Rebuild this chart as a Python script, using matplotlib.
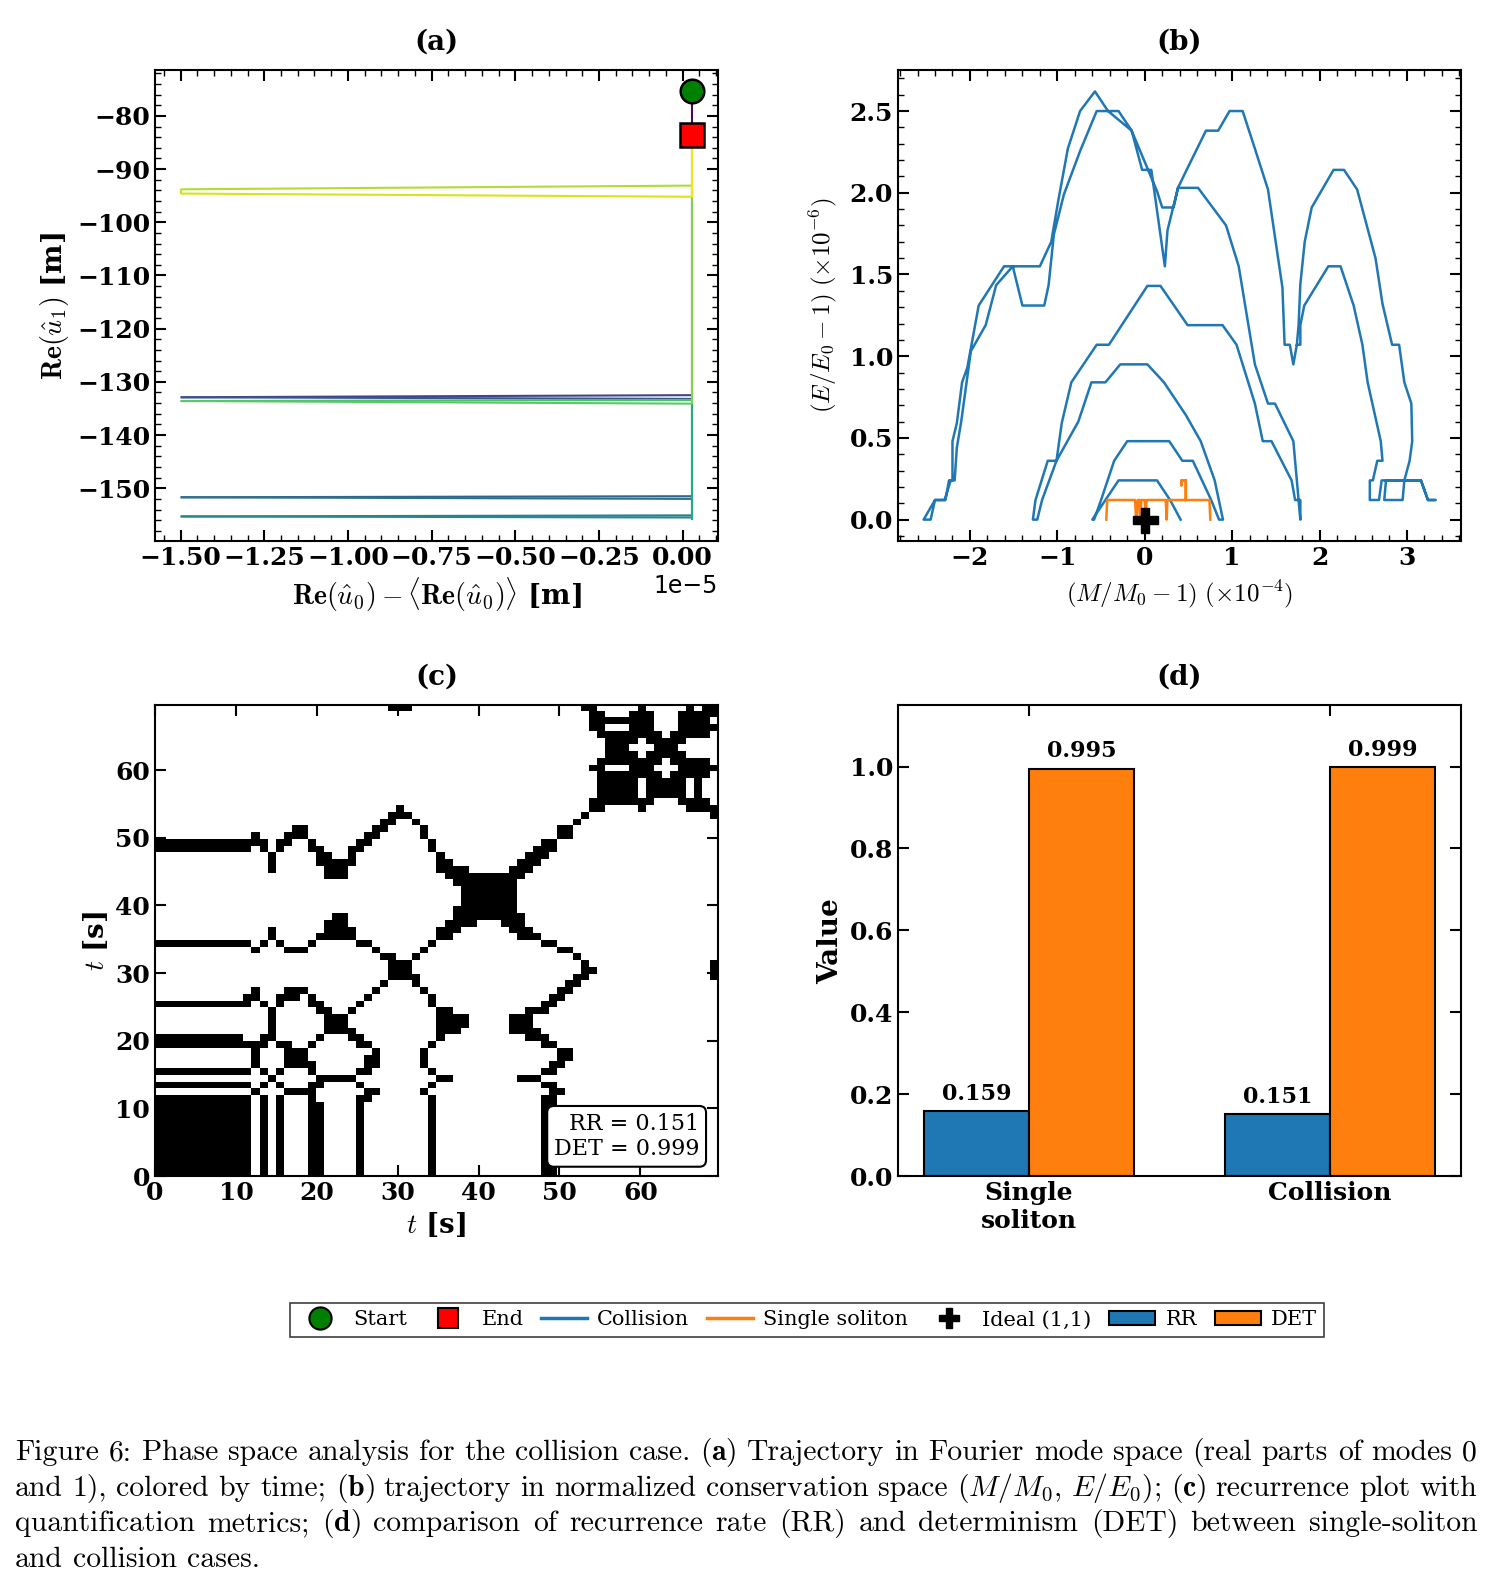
import numpy as np
import matplotlib
matplotlib.use("Agg")
import matplotlib.pyplot as plt
from matplotlib.collections import LineCollection
from matplotlib.lines import Line2D
from matplotlib.patches import Patch
from matplotlib.ticker import AutoMinorLocator, MultipleLocator

plt.rcParams['font.family'] = 'DejaVu Serif'
plt.rcParams['font.weight'] = 'bold'
plt.rcParams['axes.labelweight'] = 'bold'
plt.rcParams['mathtext.fontset'] = 'cm'
plt.rcParams['axes.linewidth'] = 1.5

BLUE = '#1f77b4'
ORANGE = '#ff7f0e'

# (a) trajectory in Fourier mode space  (x in units of 1e-5 m)
re_u0_e5 = [0.029, 0.029, 0.029, -1.5, 0.029, 0.029, -1.5, 0.029, 0.029, -1.5,
            0.029, 0.029, 0.029, -1.5, 0.029, 0.029, -1.5, -1.5, 0.029, 0.029]
re_u1 = [-75.4, -95.0, -132.5, -132.9, -133.2, -151.5, -151.7, -152.0, -155.1, -155.3,
         -155.5, -155.9, -133.4, -133.6, -134.1, -93.1, -93.8, -94.6, -95.2, -83.6]
t_norm = [0.0, 0.05, 0.15, 0.25, 0.28, 0.30, 0.34, 0.38, 0.42, 0.45,
          0.48, 0.52, 0.70, 0.73, 0.76, 0.86, 0.90, 0.93, 0.96, 1.0]

# (b) collision trajectory, (M/M0-1) x1e-4 and (E/E0-1) x1e-6
coll_dm = [0.41, 0.29, 0.14, -0.30, -0.45, -0.60,
           -0.58, -0.50, -0.35, -0.20, 0.28, 0.43, 0.55, 0.76, 0.85,
           0.895, 0.80, 0.64, 0.47, 0.22, 0.03, -0.28, -0.45, -0.61, -0.76, -1.01, -1.175, -1.23,
           -1.28, -1.25, -1.11, -1.01, -0.95, -0.84, -0.55, -0.41, 0.03, 0.18, 0.49, 0.89, 1.05,
           1.26, 1.35, 1.45, 1.68, 1.72, 1.78, 1.78,
           1.70, 1.49, 1.41, 1.26, 1.075, 0.93, 0.61, 0.47, 0.38,
           0.33, 0.20, 0.14, -0.15, -0.30, -0.55, -0.74, -0.925, -1.04, -1.10, -1.15, -1.40,
           -1.51, -1.70, -1.82, -1.99, -2.10, -2.15, -2.175, -2.22, -2.29, -2.40, -2.45,
           -2.53, -2.40, -2.28, -2.24, -2.20, -2.20, -2.15, -2.09, -2.03, -1.90, -1.61, -1.20,
           -1.07, -0.99, -0.88, -0.74, -0.57, -0.42, -0.15, -0.03, 0.075, 0.23, 0.26, 0.38,
           0.47, 0.70, 0.84, 0.97, 1.12, 1.26, 1.41, 1.575, 1.60, 1.66, 1.70, 1.74, 1.78, 1.78, 1.825,
           2.10, 2.24, 2.39, 2.49, 2.55, 2.70, 2.72, 2.66, 2.61, 2.575, 2.575, 2.68, 2.71, 3.16,
           3.24, 3.325, 3.24, 3.16, 2.76, 2.74, 2.95,
           2.97, 3.03, 3.06, 3.05, 2.97, 2.91, 2.83, 2.72, 2.64, 2.43, 2.28, 2.16, 1.91, 1.83,
           1.78, 1.76, 1.74]
coll_de = [0.0, 0.12, 0.24, 0.24, 0.12, 0.0,
           0.0, 0.12, 0.36, 0.48, 0.48, 0.36, 0.36, 0.12, 0.0,
           0.0, 0.24, 0.48, 0.64, 0.84, 0.95, 0.95, 0.84, 0.84, 0.60, 0.36, 0.12, 0.0,
           0.0, 0.12, 0.36, 0.36, 0.59, 0.84, 1.07, 1.07, 1.43, 1.43, 1.19, 1.19, 1.07,
           0.71, 0.48, 0.48, 0.24, 0.12, 0.12, 0.0,
           0.48, 0.71, 0.71, 0.95, 1.55, 1.80, 2.03, 2.03, 2.03,
           1.91, 1.91, 2.01, 2.38, 2.50, 2.50, 2.255, 1.99, 1.745, 1.435, 1.31, 1.31,
           1.55, 1.435, 1.19, 1.03, 0.60, 0.44, 0.24, 0.24, 0.12, 0.12, 0.0,
           0.0, 0.12, 0.12, 0.24, 0.24, 0.48, 0.59, 0.84, 0.93, 1.31, 1.55, 1.55,
           1.70, 1.95, 2.27, 2.50, 2.62, 2.50, 2.38, 2.14, 2.14, 1.55, 1.77, 2.03,
           2.13, 2.38, 2.38, 2.50, 2.50, 2.27, 2.02, 1.42, 1.07, 1.07, 0.95, 1.07, 1.07, 1.19, 1.31,
           1.55, 1.55, 1.31, 1.07, 0.84, 0.48, 0.36, 0.36, 0.24, 0.24, 0.12, 0.12, 0.24, 0.24,
           0.12, 0.12, 0.12, 0.24, 0.24, 0.12, 0.12,
           0.24, 0.36, 0.48, 0.71, 0.84, 1.07, 1.07, 1.32, 1.60, 2.02, 2.14, 2.14, 1.91, 1.70,
           1.44, 1.19, 1.07]

# (b) single soliton trajectory
ss_dm = [-0.44, -0.43, -0.11, -0.10, -0.09, -0.08, -0.06, -0.05, -0.04, 0.0, 0.01, 0.02,
         0.24, 0.25, 0.26, 0.47, 0.47, 0.42, 0.42, 0.42, 0.47, 0.47, 0.74, 0.75]
ss_de = [0.0, 0.12, 0.12, 0.0, 0.0, 0.12, 0.12, 0.0, 0.12, 0.12, 0.0, 0.12,
         0.12, 0.0, 0.12, 0.12, 0.24, 0.24, 0.21, 0.24, 0.24, 0.12, 0.12, 0.0]

# (c) state signal used for the recurrence plot (one sample per cell)
rp_signal = [0.0, 0.0, 0.0, 0.0, 0.0, 0.0, 0.0, 0.0, 0.0, 0.0,
             0.0, 0.4, 1.5, 0.0, -1.5, 0.4, 1.5, 2.1, 2.2, 0.5,
             -0.8, -2.0, -2.4, -2.4, -1.3, 0.1, 1.2, 2.2, 3.5, 4.8,
             5.5, 5.0, 3.8, 2.2, 0.3, -1.4, -2.3, -2.8, -3.4, -3.8,
             -4.0, -4.0, -3.9, -3.6, -3.0, -2.4, -1.7, -1.2, -0.3, 0.5,
             1.8, 2.6, 3.9, 5.2, 6.3, 7.2, 7.7, 8.0, 7.9, 7.4,
             6.6, 7.6, 8.3, 8.7, 8.3, 7.6, 6.6, 7.1, 6.6, 5.8]
rp_eps = 1.0
t_end = 69.6

# (d) recurrence metrics
cases = ['Single\nsoliton', 'Collision']
rr_vals = [0.159, 0.151]
det_vals = [0.995, 0.999]

fig = plt.figure(figsize=(14.92, 15.88), dpi=100)
ax_a = fig.add_axes([0.1039, 0.6593, 0.3773, 0.2966])
ax_b = fig.add_axes([0.6019, 0.6593, 0.3773, 0.2966])
ax_c = fig.add_axes([0.1039, 0.2594, 0.3773, 0.2966])
ax_d = fig.add_axes([0.6019, 0.2594, 0.3773, 0.2966])


def style(ax, minor=True):
    ax.tick_params(which='both', direction='in', top=True, right=True, labelsize=18)
    ax.tick_params(which='major', length=8, width=1.5)
    ax.tick_params(which='minor', length=4, width=1.0)
    if minor:
        ax.xaxis.set_minor_locator(AutoMinorLocator(5))
        ax.yaxis.set_minor_locator(AutoMinorLocator(5))


# ---- (a)
x = np.array(re_u0_e5) * 1e-5
y = np.array(re_u1)
t = np.array(t_norm)
pts = np.column_stack([x, y])
segs = np.stack([pts[:-1], pts[1:]], axis=1)
lc = LineCollection(segs, cmap='viridis', norm=plt.Normalize(0, 1), linewidths=1.5)
lc.set_array((t[:-1] + t[1:]) / 2)
ax_a.add_collection(lc)
ax_a.autoscale_view()
ax_a.plot(x[0], y[0], 'o', color='green', mec='black', ms=17, mew=1.8, zorder=5)
ax_a.plot(x[-1], y[-1], 's', color='red', mec='black', ms=17, mew=1.8, zorder=5)
style(ax_a)
ax_a.set_title('(a)', fontsize=20, fontweight='bold', pad=15)
ax_a.set_xlabel(r'$\mathbf{Re}(\hat{u}_0) - \langle\mathbf{Re}(\hat{u}_0)\rangle$ [m]', fontsize=20)
ax_a.set_ylabel(r'$\mathbf{Re}(\hat{u}_1)$ [m]', fontsize=20)
off = ax_a.xaxis.get_offset_text()
off.set_fontfamily('DejaVu Sans')
off.set_fontweight('normal')
off.set_fontsize(17)

# ---- (b)
ax_b.plot(coll_dm, coll_de, color=BLUE, lw=1.8, label='Collision')
ax_b.plot(ss_dm, ss_de, color=ORANGE, lw=1.8, label='Single soliton', zorder=3)
ax_b.plot([0], [0], 'P', color='black', ms=18, zorder=5)
style(ax_b)
ax_b.xaxis.set_major_locator(MultipleLocator(1))
ax_b.yaxis.set_major_locator(MultipleLocator(0.5))
ax_b.xaxis.set_minor_locator(AutoMinorLocator(5))
ax_b.yaxis.set_minor_locator(AutoMinorLocator(5))
ax_b.set_title('(b)', fontsize=20, fontweight='bold', pad=15)
ax_b.set_xlabel(r'$(M/M_0-1)\ (\times10^{-4})$', fontsize=18, labelpad=6)
ax_b.set_ylabel(r'$(E/E_0-1)\ (\times10^{-6})$', fontsize=18, labelpad=8)

# ---- (c)
s = np.array(rp_signal)
rp = np.abs(s[:, None] - s[None, :]) <= rp_eps
ax_c.imshow(rp, cmap='binary', origin='lower', extent=[0, t_end, 0, t_end],
            interpolation='nearest', aspect='auto')
style(ax_c, minor=False)
ax_c.set_xticks(np.arange(0, 61, 10))
ax_c.set_yticks(np.arange(0, 61, 10))
ax_c.set_xlim(0, t_end)
ax_c.set_ylim(0, t_end)
ax_c.set_title('(c)', fontsize=20, fontweight='bold', pad=15)
ax_c.set_xlabel(r'$t$ [s]', fontsize=20)
ax_c.set_ylabel(r'$t$ [s]', fontsize=20)
ax_c.text(0.967, 0.034, f'RR = {rr_vals[1]:.3f}\nDET = {det_vals[1]:.3f}',
          transform=ax_c.transAxes, ha='right', va='bottom', fontsize=16,
          fontweight='normal', multialignment='right',
          bbox=dict(boxstyle='round,pad=0.3', fc='white', ec='black', lw=1.5))

# ---- (d)
pos = np.arange(len(cases))
w = 0.35
b1 = ax_d.bar(pos - w / 2, rr_vals, w, color=BLUE, edgecolor='black', lw=1.5)
b2 = ax_d.bar(pos + w / 2, det_vals, w, color=ORANGE, edgecolor='black', lw=1.5)
for bars, vals in ((b1, rr_vals), (b2, det_vals)):
    for r, v in zip(bars, vals):
        ax_d.text(r.get_x() + r.get_width() / 2, v + 0.015, f'{v:.3f}',
                  ha='center', va='bottom', fontsize=16, fontweight='bold')
ax_d.set_ylim(0, 1.15)
style(ax_d, minor=False)
ax_d.set_xticks(pos)
ax_d.set_xticklabels(cases)
ax_d.set_title('(d)', fontsize=20, fontweight='bold', pad=15)
ax_d.set_ylabel('Value', fontsize=20)

# ---- legend
handles = [
    Line2D([], [], marker='o', ls='None', mfc='green', mec='black', ms=16, mew=1.5),
    Line2D([], [], marker='s', ls='None', mfc='red', mec='black', ms=15, mew=1.5),
    Line2D([], [], color=BLUE, lw=2.5),
    Line2D([], [], color=ORANGE, lw=2.5),
    Line2D([], [], marker='P', ls='None', color='black', ms=15),
    Patch(facecolor=BLUE, edgecolor='black', lw=1.5),
    Patch(facecolor=ORANGE, edgecolor='black', lw=1.5),
]
labels = ['Start', 'End', 'Collision', 'Single soliton', 'Ideal (1,1)', 'RR', 'DET']
leg = fig.legend(handles, labels, loc='upper center', bbox_to_anchor=(0.541, 0.186), ncol=7,
                 fancybox=False, edgecolor='0.25', framealpha=1, handlelength=2.2,
                 handletextpad=0.5, columnspacing=0.85, borderpad=0.35,
                 prop={'family': 'DejaVu Serif', 'weight': 'normal', 'size': 15})
leg.get_frame().set_linewidth(1.2)

# ---- caption (justified)
cap_lines = [
    r"Figure 6: Phase space analysis for the collision case. ($\mathbf{a}$) Trajectory in Fourier mode space (real parts of modes 0",
    r"and 1), colored by time; ($\mathbf{b}$) trajectory in normalized conservation space ($M/M_0,$ $E/E_0$); ($\mathbf{c}$) recurrence plot with",
    r"quantification metrics; ($\mathbf{d}$) comparison of recurrence rate (RR) and determinism (DET) between single-soliton",
    r"and collision cases.",
]
cap_y = [0.0806, 0.0582, 0.0359, 0.0135]
cap_fs = 21.4
x0, x1 = 0.0102, 0.990
renderer = fig.canvas.get_renderer()
W = fig.bbox.width
for i, line in enumerate(cap_lines):
    words = line.split(' ')
    objs = [fig.text(0, cap_y[i], wd, fontsize=cap_fs, family='cmr10', fontweight='normal',
                     va='baseline', ha='left') for wd in words]
    widths = [o.get_window_extent(renderer).width for o in objs]
    if i < len(cap_lines) - 1:
        gap = ((x1 - x0) * W - sum(widths)) / (len(words) - 1)
    else:
        gap = 0.333 * cap_fs * fig.dpi / 72
    xp = x0 * W
    for o, wd in zip(objs, widths):
        o.set_x(xp / W)
        xp += wd + gap

fig.savefig('out.png', dpi=100)
